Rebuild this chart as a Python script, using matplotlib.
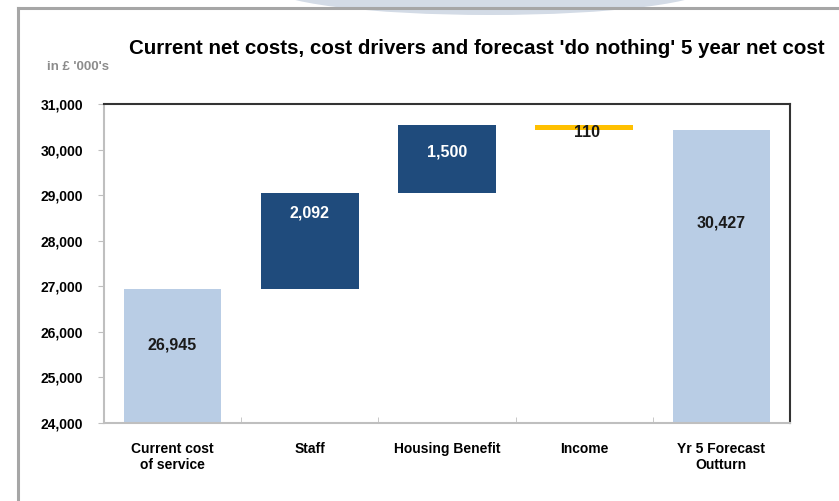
import matplotlib
matplotlib.use("Agg")
import matplotlib.pyplot as plt
from matplotlib.patches import Ellipse
from matplotlib.lines import Line2D

categories = ["Current cost\nof service", "Staff", "Housing Benefit", "Income", "Yr 5 Forecast\nOutturn"]
changes = [26945, 2092, 1500, -110, 30427]
kinds = ["total", "delta", "delta", "delta", "total"]
yticks = [24000, 25000, 26000, 27000, 28000, 29000, 30000, 31000]

plt.rcParams['font.family'] = ['Liberation Sans', 'DejaVu Sans']

fig = plt.figure(figsize=(8.39, 5.01), dpi=100)
W, H = 839, 501

# decorations: outer frame and top shape
fig.patches.append(Ellipse((490 / W, 1 + 13 / H), 440 / W, 56 / H, transform=fig.transFigure,
                           facecolor="#D3DBE6", edgecolor="none", zorder=0))
fig.lines.append(Line2D([18 / W, 1], [1 - 7.5 / H, 1 - 7.5 / H], transform=fig.transFigure,
                        color="#A6A6A6", lw=2.2, zorder=1))
fig.lines.append(Line2D([18 / W, 18 / W], [0, 1 - 7.5 / H], transform=fig.transFigure,
                        color="#A6A6A6", lw=2.2, zorder=1))

left, right, top, bottom = 104, 790, 104, 423
ax = fig.add_axes([left / W, 1 - bottom / H, (right - left) / W, (bottom - top) / H])

colors = {"total": "#B9CDE5", "up": "#1F4B7C", "down": "#FFC000"}
running = 0
bars = []
for i, (v, k) in enumerate(zip(changes, kinds)):
    if k == "total":
        lo, hi = 0, v
        running = v
        c = colors["total"]
    else:
        lo, hi = (running, running + v) if v >= 0 else (running + v, running)
        running += v
        c = colors["up"] if v >= 0 else colors["down"]
    ax.bar(i, hi - lo, bottom=lo, width=0.71, color=c, zorder=2)
    bars.append((lo, hi))

# label positions (fraction within visible bar)
label_frac = [0.58, 0.795, 0.607, None, 0.683]
ymin = 24000
for i, ((lo, hi), v, k) in enumerate(zip(bars, changes, kinds)):
    txt = f"{abs(v):,}"
    if k == "delta" and v < 0:
        y = lo - 50
        ax.text(i + 0.02, y, txt, ha="center", va="center", fontsize=11.5, fontweight="bold",
                color="#1a1a1a", zorder=3)
        continue
    vlo = max(lo, ymin)
    y = vlo + (hi - vlo) * label_frac[i]
    col = "white" if (k == "delta") else "#1a1a1a"
    ax.text(i, y, txt, ha="center", va="center", fontsize=11.5, fontweight="bold", color=col, zorder=3)

ax.set_xlim(-0.5, len(categories) - 0.5)
ax.set_ylim(24000, 31000)
ax.set_yticks(yticks)
ax.set_yticklabels([f"{t:,}" for t in yticks], fontsize=10, fontweight="bold")
ax.set_xticks(range(len(categories)))
ax.set_xticklabels(categories, fontsize=10, fontweight="bold", linespacing=1.15)
ax.set_xticks([i - 0.5 for i in range(len(categories) + 1)], minor=True)
ax.tick_params(axis="x", which="major", length=0, pad=14)
ax.tick_params(axis="x", which="minor", length=4, color="#BFBFBF", direction="in")
ax.tick_params(axis="y", length=4, color="#BFBFBF", direction="out", pad=11)
for s in ["left", "bottom"]:
    ax.spines[s].set_color("#BFBFBF")
    ax.spines[s].set_linewidth(1.5)
for s in ["top", "right"]:
    ax.spines[s].set_color("#333333")
    ax.spines[s].set_linewidth(1.5)

fig.text(477 / W, 1 - 48 / H, "Current net costs, cost drivers and forecast 'do nothing' 5 year net cost",
         ha="center", va="center", fontsize=14.8, fontweight="bold", color="black")
fig.text(47 / W, 1 - 67 / H, "in £ '000's", ha="left", va="center", fontsize=9.5,
         fontweight="bold", color="#8C8C8C")

fig.savefig("out.png", dpi=100)
